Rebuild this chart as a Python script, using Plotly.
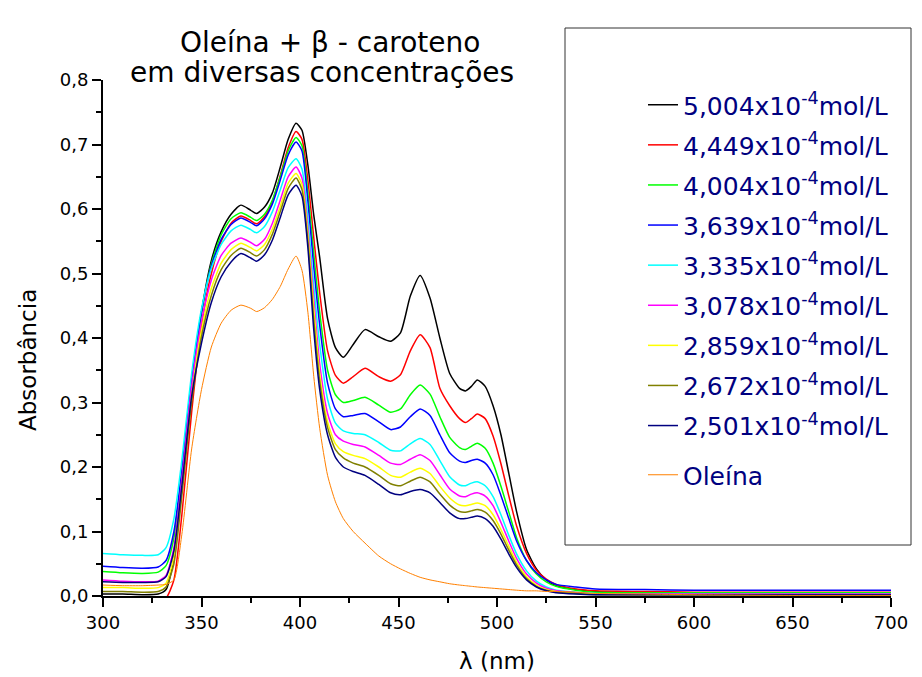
import plotly.graph_objects as go

# ---------------- data ----------------
wavelength = [300, 310, 320, 328, 332, 336, 340, 345, 350, 355,
              360, 365, 370, 375, 378, 382, 386, 390, 394, 398,
              401, 404, 407, 410, 414, 418, 422, 427, 433, 440,
              446, 451, 456, 461, 466, 471, 476, 481, 484, 487,
              490, 494, 498, 502, 506, 510, 515, 520, 525, 530,
              540, 550, 575, 600, 650, 700]

abs_5004 = [0.003, 0.003, 0.002, 0.003, 0.010, 0.060, 0.165, 0.320, 0.440, 0.520,
            0.565, 0.592, 0.606, 0.598, 0.593, 0.603, 0.625, 0.665, 0.708, 0.733,
            0.722, 0.668, 0.590, 0.525, 0.430, 0.385, 0.370, 0.390, 0.413, 0.402,
            0.395, 0.408, 0.465, 0.497, 0.462, 0.400, 0.345, 0.322, 0.318, 0.325,
            0.335, 0.325, 0.295, 0.250, 0.190, 0.130, 0.072, 0.042, 0.025, 0.016,
            0.010, 0.007, 0.005, 0.005, 0.005, 0.005]

abs_4449 = [-0.004, -0.004, -0.004, -0.004, -0.003, 0.025, 0.125, 0.285, 0.420, 0.500,
            0.550, 0.578, 0.589, 0.582, 0.577, 0.588, 0.612, 0.652, 0.695, 0.720,
            0.708, 0.645, 0.555, 0.470, 0.380, 0.342, 0.330, 0.340, 0.353, 0.340,
            0.333, 0.343, 0.380, 0.405, 0.385, 0.322, 0.295, 0.275, 0.269, 0.275,
            0.282, 0.275, 0.248, 0.205, 0.155, 0.108, 0.066, 0.040, 0.026, 0.018,
            0.011, 0.008, 0.007, 0.006, 0.006, 0.006]

abs_4004 = [0.038, 0.036, 0.035, 0.037, 0.047, 0.090, 0.190, 0.330, 0.440, 0.515,
            0.560, 0.585, 0.594, 0.587, 0.582, 0.592, 0.614, 0.650, 0.690, 0.711,
            0.698, 0.625, 0.530, 0.440, 0.350, 0.312, 0.300, 0.303, 0.308, 0.296,
            0.285, 0.290, 0.312, 0.327, 0.313, 0.278, 0.246, 0.230, 0.227, 0.232,
            0.237, 0.229, 0.206, 0.170, 0.130, 0.090, 0.055, 0.034, 0.022, 0.015,
            0.009, 0.006, 0.005, 0.005, 0.005, 0.005]

abs_3639 = [0.046, 0.044, 0.043, 0.045, 0.055, 0.100, 0.195, 0.335, 0.440, 0.512,
            0.553, 0.576, 0.586, 0.579, 0.574, 0.585, 0.608, 0.645, 0.684, 0.704,
            0.690, 0.612, 0.510, 0.420, 0.330, 0.290, 0.278, 0.280, 0.283, 0.270,
            0.258, 0.262, 0.278, 0.290, 0.280, 0.250, 0.222, 0.209, 0.207, 0.210,
            0.212, 0.206, 0.188, 0.156, 0.120, 0.085, 0.055, 0.036, 0.025, 0.018,
            0.014, 0.011, 0.010, 0.009, 0.009, 0.009]

abs_3335 = [0.066, 0.064, 0.063, 0.064, 0.075, 0.120, 0.210, 0.345, 0.445, 0.508,
            0.545, 0.566, 0.575, 0.568, 0.563, 0.573, 0.596, 0.630, 0.664, 0.678,
            0.662, 0.585, 0.480, 0.390, 0.305, 0.268, 0.256, 0.252, 0.250, 0.238,
            0.226, 0.225, 0.236, 0.244, 0.235, 0.210, 0.185, 0.172, 0.171, 0.175,
            0.177, 0.171, 0.154, 0.126, 0.094, 0.065, 0.039, 0.023, 0.014, 0.009,
            0.006, 0.004, 0.003, 0.003, 0.003, 0.003]

abs_3078 = [0.025, 0.023, 0.022, 0.023, 0.032, 0.075, 0.180, 0.325, 0.425, 0.490,
            0.528, 0.547, 0.555, 0.548, 0.543, 0.553, 0.578, 0.614, 0.650, 0.665,
            0.648, 0.570, 0.460, 0.360, 0.283, 0.250, 0.240, 0.235, 0.231, 0.218,
            0.206, 0.204, 0.212, 0.219, 0.210, 0.188, 0.166, 0.155, 0.154, 0.158,
            0.160, 0.155, 0.140, 0.114, 0.085, 0.058, 0.034, 0.020, 0.012, 0.008,
            0.005, 0.003, 0.003, 0.003, 0.003, 0.003]

abs_2859 = [0.013, 0.013, 0.012, 0.013, 0.020, 0.060, 0.165, 0.310, 0.412, 0.477,
            0.516, 0.537, 0.547, 0.540, 0.535, 0.545, 0.569, 0.604, 0.640, 0.655,
            0.638, 0.560, 0.445, 0.345, 0.270, 0.236, 0.224, 0.218, 0.213, 0.200,
            0.187, 0.184, 0.192, 0.198, 0.190, 0.170, 0.152, 0.141, 0.140, 0.142,
            0.144, 0.140, 0.126, 0.103, 0.077, 0.052, 0.030, 0.017, 0.010, 0.007,
            0.004, 0.003, 0.002, 0.002, 0.002, 0.002]

abs_2672 = [0.007, 0.007, 0.006, 0.007, 0.014, 0.050, 0.155, 0.300, 0.402, 0.466,
            0.506, 0.528, 0.539, 0.532, 0.527, 0.537, 0.561, 0.596, 0.632, 0.648,
            0.630, 0.550, 0.428, 0.333, 0.261, 0.227, 0.214, 0.206, 0.200, 0.187,
            0.174, 0.171, 0.178, 0.184, 0.177, 0.158, 0.141, 0.131, 0.130, 0.132,
            0.134, 0.130, 0.117, 0.096, 0.071, 0.048, 0.027, 0.015, 0.009, 0.006,
            0.004, 0.002, 0.002, 0.002, 0.002, 0.002]

abs_2501 = [0.022, 0.021, 0.021, 0.022, 0.030, 0.070, 0.170, 0.310, 0.392, 0.455,
            0.495, 0.518, 0.531, 0.524, 0.519, 0.529, 0.552, 0.587, 0.622, 0.637,
            0.620, 0.540, 0.412, 0.320, 0.250, 0.215, 0.200, 0.193, 0.187, 0.173,
            0.160, 0.157, 0.162, 0.165, 0.160, 0.145, 0.129, 0.120, 0.120, 0.122,
            0.124, 0.120, 0.108, 0.088, 0.065, 0.044, 0.025, 0.014, 0.008, 0.005,
            0.003, 0.002, 0.002, 0.002, 0.002, 0.002]

abs_oleina = [0.017, 0.016, 0.016, 0.017, 0.018, 0.025, 0.095, 0.228, 0.320, 0.386,
              0.423, 0.443, 0.451, 0.446, 0.441, 0.447, 0.460, 0.480, 0.507, 0.527,
              0.505, 0.440, 0.340, 0.260, 0.187, 0.146, 0.120, 0.100, 0.082, 0.062,
              0.050, 0.042, 0.035, 0.029, 0.025, 0.022, 0.019, 0.017, 0.016, 0.015,
              0.014, 0.013, 0.012, 0.011, 0.010, 0.009, 0.008, 0.008, 0.007, 0.007,
              0.006, 0.004, 0.003, 0.002, 0.001, 0.001]

series_names = ["5,004x10<sup>-4</sup>mol/L", "4,449x10<sup>-4</sup>mol/L",
                "4,004x10<sup>-4</sup>mol/L", "3,639x10<sup>-4</sup>mol/L",
                "3,335x10<sup>-4</sup>mol/L", "3,078x10<sup>-4</sup>mol/L",
                "2,859x10<sup>-4</sup>mol/L", "2,672x10<sup>-4</sup>mol/L",
                "2,501x10<sup>-4</sup>mol/L"]
series_values = [abs_5004, abs_4449, abs_4004, abs_3639, abs_3335,
                 abs_3078, abs_2859, abs_2672, abs_2501]
series_colors = ["#000000", "#FF0000", "#00FF00", "#0000FF", "#00FFFF",
                 "#FF00FF", "#FFFF00", "#808000", "#000080"]
oleina_name = "Oleína"
oleina_color = "#FF8000"

x_title = "λ (nm)"
y_title = "Absorbância"
title_lines = ["Oleína + β - caroteno", "em diversas concentrações"]

FONT = "DejaVu Sans, Arial, sans-serif"

# ---------------- figure ----------------
fig = go.Figure()
for i, (name, vals, col) in enumerate(zip(series_names, series_values, series_colors)):
    fig.add_trace(go.Scatter(
        x=wavelength, y=vals, mode="lines", name=name,
        legendgroup=f"g{i}",
        line=dict(color=col, width=1.5, shape="spline", smoothing=0.6),
    ))
fig.add_trace(go.Scatter(
    x=wavelength, y=abs_oleina, mode="lines", name=oleina_name,
    legend="legend2",
    line=dict(color=oleina_color, width=1, shape="spline", smoothing=0.6),
))

# page body has an 8px margin: the figure is shrunk by that amount
OFF = 8
W, H = 922 - OFF, 677 - OFF
ML, MR, MT, MB = 103 - OFF, 31, 80 - OFF, 81
pw, ph = W - ML - MR, H - MT - MB


def px_x(x):
    """screen pixel x (reference) -> paper x"""
    return (x - OFF - ML) / pw


def px_y(y):
    """screen pixel y (reference) -> paper y"""
    return (H - MB - (y - OFF)) / ph


fig.update_layout(
    width=W, height=H,
    margin=dict(l=ML, r=MR, t=MT, b=MB, autoexpand=False),
    paper_bgcolor="white", plot_bgcolor="white",
    separators=",.",
    font=dict(family=FONT, color="black"),
    showlegend=True,
    xaxis=dict(
        range=[300, 700], tickmode="linear", tick0=300, dtick=50,
        ticks="outside", ticklen=9, tickwidth=1.5, tickcolor="black",
        showline=True, linecolor="black", linewidth=2, mirror=False,
        showgrid=False, zeroline=False, automargin=False,
        minor=dict(ticks="outside", ticklen=5, tickwidth=1.5, dtick=25,
                   tickcolor="black", showgrid=False),
        tickfont=dict(size=18, family=FONT, color="black"),
        title=dict(text=x_title, font=dict(size=23, family=FONT), standoff=21),
    ),
    yaxis=dict(
        range=[0, 0.8], tickmode="linear", tick0=0, dtick=0.1, tickformat=".1f",
        ticks="outside", ticklen=9, tickwidth=1.5, tickcolor="black",
        showline=True, linecolor="black", linewidth=2, mirror=False,
        showgrid=False, zeroline=False, automargin=False,
        minor=dict(ticks="outside", ticklen=5, tickwidth=1.5, dtick=0.05,
                   tickcolor="black", showgrid=False),
        tickfont=dict(size=18, family=FONT, color="black"),
    ),
    legend=dict(
        x=px_x(643), y=px_y(82), xanchor="left", yanchor="top",
        bgcolor="rgba(0,0,0,0)", borderwidth=0,
        font=dict(size=25, family=FONT, color="#000080"),
        tracegroupgap=4.6, itemwidth=30,
    ),
    legend2=dict(
        x=px_x(643), y=px_y(452), xanchor="left", yanchor="top",
        bgcolor="rgba(0,0,0,0)", borderwidth=0,
        font=dict(size=25, family=FONT, color="#000080"),
        itemwidth=30,
    ),
    shapes=[dict(type="rect", xref="paper", yref="paper",
                 x0=px_x(565), x1=px_x(911), y0=px_y(545), y1=px_y(28),
                 line=dict(color="#333333", width=1), fillcolor="rgba(0,0,0,0)",
                 layer="below")],
    annotations=[
        dict(text=title_lines[0], xref="paper", yref="paper",
             x=px_x(330), y=px_y(42), xanchor="center", yanchor="middle",
             showarrow=False, font=dict(size=28, family=FONT, color="black")),
        dict(text=title_lines[1], xref="paper", yref="paper",
             x=px_x(322), y=px_y(73), xanchor="center", yanchor="middle",
             showarrow=False, font=dict(size=28, family=FONT, color="black")),
        dict(text=y_title, xref="paper", yref="paper",
             x=px_x(28), y=px_y(360), xanchor="center", yanchor="middle",
             textangle=-90, showarrow=False,
             font=dict(size=23, family=FONT, color="black")),
    ],
)

fig.write_html("out.html")
